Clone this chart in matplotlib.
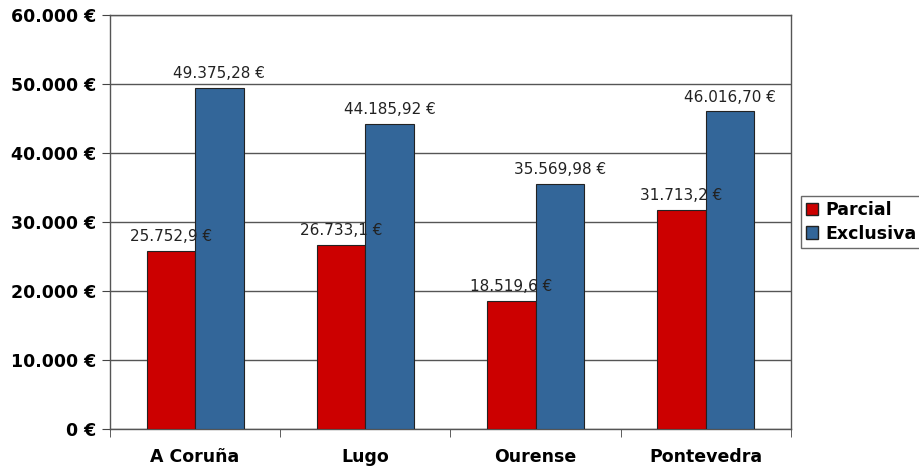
import matplotlib
matplotlib.use('Agg')
import matplotlib.pyplot as plt
import numpy as np
from matplotlib.patches import Patch

# Data
provincias = ["A Coruña", "Lugo", "Ourense", "Pontevedra"]
parcial = [25752.9, 26733.1, 18519.6, 31713.2]
exclusiva = [49375.28, 44185.92, 35569.98, 46016.70]
parcial_labels = ["25.752,9 €", "26.733,1 €", "18.519,6 €", "31.713,2 €"]
exclusiva_labels = ["49.375,28 €", "44.185,92 €", "35.569,98 €", "46.016,70 €"]
yticks = [0, 10000, 20000, 30000, 40000, 50000, 60000]
ytick_labels = ["0 €", "10.000 €", "20.000 €", "30.000 €", "40.000 €", "50.000 €", "60.000 €"]

red = "#CC0000"
blue = "#336699"

fig = plt.figure(figsize=(9.2, 4.68), dpi=100)
ax = fig.add_axes([110 / 920, 1 - 429 / 468, 681 / 920, 414 / 468])

x = np.arange(len(provincias))
w = 0.285
b1 = ax.bar(x - w / 2, parcial, w, color=red, edgecolor="#222222", linewidth=0.8, zorder=3)
b2 = ax.bar(x + w / 2, exclusiva, w, color=blue, edgecolor="#222222", linewidth=0.8, zorder=3)

for xi, v, lab in zip(x, parcial, parcial_labels):
    ax.text(xi - w / 2, v + 1000, lab, ha="center", va="bottom", fontsize=11, color="#222222", zorder=4)
for xi, v, lab in zip(x, exclusiva, exclusiva_labels):
    ax.text(xi + w / 2, v + 1000, lab, ha="center", va="bottom", fontsize=11, color="#222222", zorder=4)

ax.set_ylim(0, 60000)
ax.set_xlim(-0.5, len(provincias) - 0.5)
ax.set_yticks(yticks)
ax.set_yticklabels(ytick_labels, fontsize=12.5, fontweight="bold")
ax.set_xticks(x)
ax.set_xticklabels(provincias, fontsize=12.5, fontweight="bold")
ax.tick_params(axis="x", length=0, pad=14)
ax.set_xticks(np.arange(-0.5, len(provincias)), minor=True)
ax.tick_params(axis="x", which="minor", length=6, color="#444444")
ax.tick_params(axis="y", length=6, color="#444444", pad=4)

ax.yaxis.grid(True, color="#555555", linewidth=1.0, zorder=0)
ax.set_axisbelow(True)
for s in ax.spines.values():
    s.set_color("#555555")
    s.set_linewidth(1.0)

handles = [Patch(facecolor=red, edgecolor="#222222"), Patch(facecolor=blue, edgecolor="#222222")]
leg = fig.legend(handles, ["Parcial", "Exclusiva"], loc="center left",
                 bbox_to_anchor=(801 / 920, 1 - 222 / 468),
                 prop={"size": 12.5, "weight": "bold"}, frameon=True, fancybox=False,
                 handlelength=0.7, handleheight=0.7, handletextpad=0.4,
                 borderpad=0.3, labelspacing=0.3, borderaxespad=0)
leg.get_frame().set_edgecolor("#444444")
leg.get_frame().set_linewidth(1.0)

fig.savefig("out.png", dpi=100)
